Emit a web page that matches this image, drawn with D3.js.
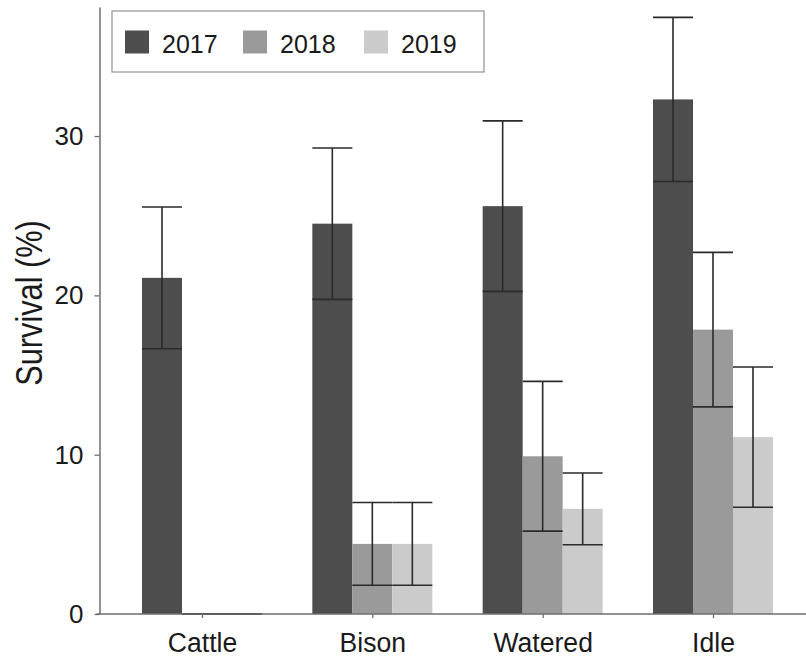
<!DOCTYPE html>
<html>
<head>
<meta charset="utf-8">
<script src="https://cdn.jsdelivr.net/npm/d3@7"></script>
<style>
  html, body { margin: 0; padding: 0; background: #fff; }
  svg { display: block; }
  text { font-family: "Liberation Sans", Arial, sans-serif; fill: #1a1a1a; }
</style>
</head>
<body>
<svg id="chart" width="806" height="658"></svg>
<script>
const categories = ["Cattle", "Bison", "Watered", "Idle"];
const years = ["2017", "2018", "2019"];
const v2017 = [21.1, 24.5, 25.6, 32.3];
const v2018 = [0, 4.4, 9.9, 17.85];
const v2019 = [0, 4.4, 6.6, 11.1];
const e2017 = [4.45, 4.75, 5.35, 5.15];
const e2018 = [0, 2.6, 4.7, 4.85];
const e2019 = [0, 2.6, 2.25, 4.4];
const yTicks = [0, 10, 20, 30];
const yLabel = "Survival (%)";

const values = { "2017": v2017, "2018": v2018, "2019": v2019 };
const errors = { "2017": e2017, "2018": e2018, "2019": e2019 };
const colors = { "2017": "#4d4d4d", "2018": "#9a9a9a", "2019": "#cbcbcb" };

const svg = d3.select("#chart");
const axisX0 = 99.5, axisTop = 7, axisBottom = 614;

const y = d3.scaleLinear().domain([0, 38.1]).range([axisBottom, axisTop]);
const x = d3.scalePoint().domain(categories).range([202, 713]);
const xs = d3.scaleBand().domain(years).range([-60, 60]).padding(0);

const data = [];
categories.forEach((c, i) => years.forEach(yr => data.push({ cat: c, year: yr, v: values[yr][i], e: errors[yr][i] })));

// bars
svg.append("g").selectAll("rect").data(data).join("rect")
  .attr("x", d => x(d.cat) + xs(d.year))
  .attr("y", d => y(d.v))
  .attr("width", xs.bandwidth())
  .attr("height", d => y(0) - y(d.v))
  .attr("fill", d => colors[d.year]);

// error bars
const eg = svg.append("g").attr("stroke", "#2a2a2a").attr("stroke-width", 1.6).attr("fill", "none");
data.forEach(d => {
  const x0 = x(d.cat) + xs(d.year), x1 = x0 + xs.bandwidth(), xc = x0 + xs.bandwidth() / 2;
  const lo = Math.max(0, d.v - d.e), hi = d.v + d.e;
  eg.append("line").attr("x1", xc).attr("x2", xc).attr("y1", y(lo)).attr("y2", y(hi));
  eg.append("line").attr("x1", x0).attr("x2", x1).attr("y1", y(hi)).attr("y2", y(hi));
  eg.append("line").attr("x1", x0).attr("x2", x1).attr("y1", y(lo)).attr("y2", y(lo));
});

// y axis
const yAxis = svg.append("g").attr("transform", `translate(${axisX0},0)`)
  .call(d3.axisLeft(y).tickValues(yTicks).tickSize(5).tickPadding(11).tickSizeOuter(0));
yAxis.select(".domain").attr("stroke", "#6e6e6e").attr("stroke-width", 1.5);
yAxis.selectAll(".tick line").attr("stroke", "#6e6e6e").attr("stroke-width", 1.3);
yAxis.selectAll(".tick text").attr("font-size", 26).attr("font-family", "Liberation Sans, Arial, sans-serif").attr("fill", "#1a1a1a");

// x axis
const xAxis = svg.append("g").attr("transform", `translate(0,${axisBottom})`)
  .call(d3.axisBottom(x).tickSize(4).tickPadding(14).tickSizeOuter(0));
xAxis.select(".domain").remove();
xAxis.insert("line", ":first-child").attr("x1", axisX0 - 3).attr("x2", 806).attr("y1", 0).attr("y2", 0)
  .attr("stroke", "#6e6e6e").attr("stroke-width", 1.5);
xAxis.selectAll(".tick line").attr("stroke", "#6e6e6e").attr("stroke-width", 1.3);
xAxis.selectAll(".tick text").attr("font-size", 28).attr("font-family", "Liberation Sans, Arial, sans-serif").attr("fill", "#1a1a1a").attr("dy", "0.71em")
  .attr("transform", "scale(0.95,1)");

// y label
svg.append("text")
  .attr("transform", "translate(42,303) rotate(-90) scale(0.83,1)")
  .attr("text-anchor", "middle")
  .attr("font-size", 37)
  .text(yLabel);

// legend
const lg = svg.append("g");
lg.append("rect").attr("x", 112).attr("y", 11).attr("width", 372).attr("height", 61)
  .attr("fill", "#fff").attr("stroke", "#9a9a9a").attr("stroke-width", 1.3);
const legX = d3.scaleOrdinal().domain(years).range([125, 243, 364]);
years.forEach(yr => {
  lg.append("rect").attr("x", legX(yr)).attr("y", 30.5).attr("width", 24).attr("height", 23).attr("fill", colors[yr]);
  lg.append("text").attr("x", legX(yr) + 37).attr("y", 52.5).attr("font-size", 25).text(yr);
});
</script>
</body>
</html>
